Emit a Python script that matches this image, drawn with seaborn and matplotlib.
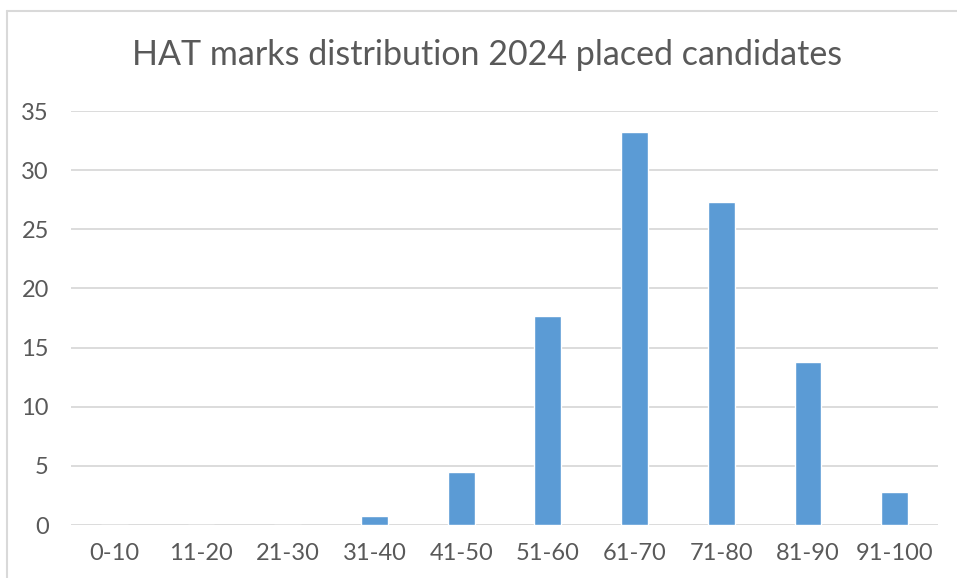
import matplotlib
matplotlib.use("Agg")
import matplotlib.pyplot as plt
import seaborn as sns
import pandas as pd

# data
categories = ["0-10", "11-20", "21-30", "31-40", "41-50",
              "51-60", "61-70", "71-80", "81-90", "91-100"]
counts = [0, 0, 0, 0.8, 4.5, 17.7, 33.2, 27.3, 13.8, 2.8]
y_ticks = [0, 5, 10, 15, 20, 25, 30, 35]

df = pd.DataFrame({"range": categories, "count": counts})

sns.set_style("white")
plt.rcParams["font.family"] = ["Lato", "DejaVu Sans"]

text_color = "#595959"
grid_color = "#D9D9D9"
bar_color = "#5B9BD5"

fig = plt.figure(figsize=(9.57, 5.78), dpi=100)
ax = fig.add_axes([71 / 957, 1 - 525 / 578, (938 - 71) / 957, (525 - 111) / 578])

sns.barplot(data=df, x="range", y="count", color=bar_color, width=0.31,
            saturation=1, ax=ax, zorder=3)

ax.set_ylim(0, 35)
ax.set_xlim(-0.5, len(categories) - 0.5)
ax.set_yticks(y_ticks)
ax.yaxis.grid(True, color=grid_color, linewidth=1.3, zorder=0)
ax.set_axisbelow(True)
for s in ax.spines.values():
    s.set_visible(False)
ax.set_xlabel("")
ax.set_ylabel("")
ax.tick_params(axis="y", length=0, pad=16, labelsize=17, labelcolor=text_color)
ax.tick_params(axis="x", length=0, pad=13, labelsize=17, labelcolor=text_color)

fig.text(487 / 957, 1 - 55 / 578, "HAT marks distribution 2024 placed candidates",
         ha="center", va="center", fontsize=24.5, color=text_color)

# chart area border (only left and top visible in the crop)
fig.add_artist(plt.Line2D([7 / 957, 7 / 957], [0, 1 - 11 / 578],
                          transform=fig.transFigure, color=grid_color, linewidth=1.5))
fig.add_artist(plt.Line2D([7 / 957, 1], [1 - 11 / 578, 1 - 11 / 578],
                          transform=fig.transFigure, color=grid_color, linewidth=1.5))

fig.savefig("out.png", dpi=100)
